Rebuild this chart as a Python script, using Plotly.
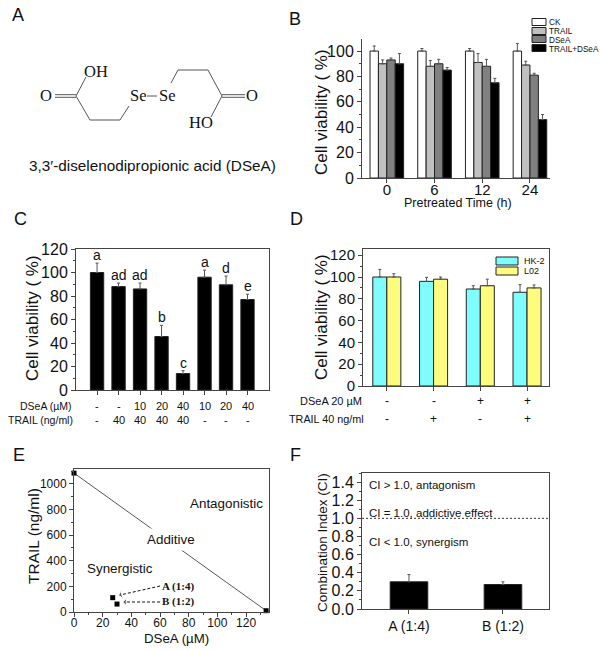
#!/usr/bin/env python3
# -*- coding: utf-8 -*-
import plotly.graph_objects as go

# panel B
b_times = ["0", "6", "12", "24"]
b_names = ["CK", "TRAIL", "DSeA", "TRAIL+DSeA"]
b_values = [[100, 100, 100, 100], [90, 88, 91, 89], [93, 90, 88, 81], [90, 85, 75, 46]]
b_errors = [[4, 2, 2, 6], [3, 4.5, 7, 3], [1.5, 3.5, 5.5, 1.5], [8, 2, 3.5, 4]]
b_colors = ["#ffffff", "#c0c0c0", "#808080", "#000000"]

# panel C
c_values = [100, 88, 86, 45.5, 14, 96, 89.5, 77]
c_errors = [8, 3, 5, 9.5, 2.5, 6, 7.5, 4.5]
c_letters = ["a", "ad", "ad", "b", "c", "a", "d", "e"]
c_dsea = ["-", "-", "10", "20", "40", "10", "20", "40"]
c_trail = ["-", "40", "40", "40", "40", "-", "-", "-"]

# panel D
d_names = ["HK-2", "L02"]
d_hk2 = [100, 96, 89, 86]
d_hk2_err = [7, 3.7, 3, 7]
d_l02 = [100, 98, 92, 90]
d_l02_err = [3, 2, 6, 2.7]
d_dsea = ["-", "-", "+", "+"]
d_trail = ["-", "+", "-", "+"]

# panel E
e_line_x = [0, 134]
e_line_y = [1085, 10]
e_points_x = [0, 27, 30, 134]
e_points_y = [1085, 112, 62, 10]

# panel F
f_labels = ["A (1:4)", "B (1:2)"]
f_values = [0.30, 0.27]
f_errors = [0.08, 0.03]

SANS = "Liberation Sans"
SERIF = "Liberation Serif"
AXIS = "#444444"
W = 600
H = 650

fig = go.Figure()
annotations = []
shapes = []


def px(x):
    return x / W


def py(y):
    return 1 - y / H


def text(x, y, s, size, family=SANS, anchor="center", **kw):
    annotations.append(dict(x=px(x), y=py(y), xref="paper", yref="paper", text=s, showarrow=False,
                            xanchor=anchor, yanchor="middle", font=dict(family=family, size=size, color="#111111"), **kw))


def seg(x0, y0, x1, y1, color="#555555", width=1):
    shapes.append(dict(type="line", xref="paper", yref="paper", x0=px(x0), y0=py(y0), x1=px(x1), y1=py(y1),
                       line=dict(color=color, width=width)))


def box(x0, y0, x1, y1, fill):
    shapes.append(dict(type="rect", xref="paper", yref="paper", x0=px(x0), y0=py(y0), x1=px(x1), y1=py(y1),
                       fillcolor=fill, line=dict(color="#222222", width=1)))


def axes(n, left, right, top, bottom, xrange, yrange, xticks, xlabels, ydtick, yminor,
         tick_size=16, mirror=True, xminor=None, xshift=0, xsize=None):
    xax = dict(domain=[px(left), px(right)], range=xrange, tickmode="array", tickvals=xticks, ticktext=xlabels,
               ticks="outside", ticklen=4, tickcolor=AXIS, showline=True, linecolor=AXIS, linewidth=1, mirror=mirror,
               showgrid=False, zeroline=False, automargin=False, anchor="y%d" % n, ticklabelstandoff=xshift,
               tickfont=dict(family=SANS, size=xsize or tick_size, color="#111111"))
    if xminor:
        xax["minor"] = dict(dtick=xminor, ticks="outside", ticklen=2, tickcolor=AXIS, showgrid=False)
    yax = dict(domain=[py(bottom), py(top)], range=yrange, dtick=ydtick, tick0=0,
               ticks="outside", ticklen=4, tickcolor=AXIS, showline=True, linecolor=AXIS, linewidth=1, mirror=mirror,
               showgrid=False, zeroline=False, automargin=False, anchor="x%d" % n,
               tickfont=dict(family=SANS, size=tick_size, color="#111111"),
               minor=dict(dtick=yminor, ticks="outside", ticklen=2, tickcolor=AXIS, showgrid=False))
    fig.update_layout({"xaxis%d" % n: xax, "yaxis%d" % n: yax})


def bar(n, x, y, err, color, width, offset=None, name=None, err_color="#555555"):
    fig.add_trace(go.Bar(x=x, y=y, width=width, offset=offset, name=name, xaxis="x%d" % n, yaxis="y%d" % n,
                         marker=dict(color=color, line=dict(color="#222222", width=1)),
                         error_y=dict(type="data", array=err, arrayminus=[0] * len(err), symmetric=False,
                                      color=err_color, thickness=1, width=1.5)))


def draw_molecule():
    # bonds of the structure in panel A, in page pixels
    bonds = [(55, 94.7, 76, 94.7), (55, 97.3, 76, 97.3), (76, 96, 86, 77), (76, 96, 90, 120), (90, 120, 120, 120),
             (120, 120, 129, 106), (147, 96, 157, 96), (171, 83, 178, 70), (178, 70, 208, 70), (208, 70, 222, 96),
             (222, 94.7, 245, 94.7), (222, 97.3, 245, 97.3), (222, 96, 211, 117)]
    for b in bonds:
        seg(*b, color="#555555")
    for x, y, s in [(46, 96, "O"), (96, 71, "OH"), (138, 96, "Se"), (167, 96, "Se"), (252, 96, "O"), (201, 122, "HO")]:
        text(x, y, s, 16.5, SERIF)
    text(152, 166, "3,3′-diselenodipropionic acid (DSeA)", 15.3)


def draw_b():
    axes(1, 362, 550, 39, 178, [-0.52, 3.42], [0, 109.5], [0, 1, 2, 3], b_times, 20, 10,
         mirror=False, xshift=-6, xsize=15)
    for i in range(4):
        bar(1, [0, 1, 2, 3], b_values[i], b_errors[i], b_colors[i], 0.176, -0.352 + 0.176 * i, b_names[i])
    text(322, 112, "Cell viability ( %)", 17, textangle=-90)
    text(458, 203, "Pretreated Time (h)", 12.5)
    # legend rows sit closer together than a plotly legend allows
    for i, y in enumerate([22, 31, 39, 48]):
        box(532, y - 3.5, 546, y + 3.5, b_colors[i])
        text(548, y + 1, b_names[i], 8.2, anchor="left", borderpad=0)


def draw_c():
    x = list(range(8))
    axes(2, 76, 269, 249, 390, [-0.98, 8.0], [0, 120], x, [""] * 8, 20, 10)
    bar(2, x, c_values, c_errors, "#000000", 0.62)
    for i in x:
        annotations.append(dict(x=i, y=c_values[i] + c_errors[i], xref="x2", yref="y2", text=c_letters[i], showarrow=False,
                                yanchor="bottom", yshift=-2, font=dict(family=SANS, size=14, color="#111111")))
        annotations.append(dict(x=i, y=py(406), xref="x2", yref="paper", text=c_dsea[i], showarrow=False,
                                yanchor="middle", font=dict(family=SANS, size=11, color="#111111")))
        annotations.append(dict(x=i, y=py(420), xref="x2", yref="paper", text=c_trail[i], showarrow=False,
                                yanchor="middle", font=dict(family=SANS, size=11, color="#111111")))
    text(32, 318, "Cell viability ( %)", 17, textangle=-90)
    text(74, 406, "DSeA (µM)", 10.5, anchor="right")
    text(75, 420, "TRAIL (ng/ml)", 10.5, anchor="right")


def draw_d():
    x = [0, 1, 2, 3]
    axes(3, 363, 549, 249, 386, [-0.51, 3.47], [0, 125.7], x, [""] * 4, 20, 10, tick_size=15)
    bar(3, x, d_hk2, d_hk2_err, "#7ffcfc", 0.3, -0.3, d_names[0])
    bar(3, x, d_l02, d_l02_err, "#fdfc7d", 0.3, 0, d_names[1])
    for i in x:
        annotations.append(dict(x=i, y=py(401), xref="x3", yref="paper", text=d_dsea[i], showarrow=False,
                                yanchor="middle", font=dict(family=SANS, size=12, color="#111111")))
        annotations.append(dict(x=i, y=py(419), xref="x3", yref="paper", text=d_trail[i], showarrow=False,
                                yanchor="middle", font=dict(family=SANS, size=12, color="#111111")))
    text(322, 317, "Cell viability ( %)", 17, textangle=-90)
    text(364, 401, "DSeA 20 µM", 11, anchor="right")
    text(366, 419, "TRAIL 40 ng/ml", 10.8, anchor="right")
    for i, y in enumerate([261, 271]):
        box(496, y - 4, 518, y + 4, ["#7ffcfc", "#fdfc7d"][i])
        text(523, y, d_names[i], 9, anchor="left", borderpad=0)


def draw_e():
    axes(4, 74, 269, 469, 612, [0, 136], [0, 1117], [0, 20, 40, 60, 80, 100, 120],
         ["0", "20", "40", "60", "80", "100", "120"], 200, 100, tick_size=12, xminor=10, xshift=-4)
    fig.add_trace(go.Scatter(x=e_line_x, y=e_line_y, mode="lines", xaxis="x4", yaxis="y4",
                             line=dict(color="#555555", width=1)))
    fig.add_trace(go.Scatter(x=e_points_x, y=e_points_y, mode="markers", xaxis="x4", yaxis="y4",
                             marker=dict(symbol="square", size=5, color="#000000"), cliponaxis=False))
    # dashed guides from the labels to the two points
    for gx, gy in [([60, 31], [203, 130]), ([60, 34], [78, 78])]:
        fig.add_trace(go.Scatter(x=gx, y=gy, mode="lines+markers", xaxis="x4", yaxis="y4",
                                 line=dict(color="#111111", width=1, dash="3px,2px"),
                                 marker=dict(symbol=["line-ew", "arrow-wide"], angleref="previous", size=[1, 8], color="#111111")))
    text(33, 536, "TRAIL (ng/ml)", 15.5, textangle=-90)
    text(176, 638, "DSeA (µM)", 13.3)
    text(226, 503, "Antagonistic", 13.4)
    text(171, 539, "Additive", 13.4, bgcolor="#ffffff", borderpad=3)
    text(120, 568, "Synergistic", 13.4)
    text(160, 586, "<b>A (1:4)</b>", 11, SERIF, anchor="left")
    text(160, 601, "<b>B (1:2)</b>", 11, SERIF, anchor="left")


def draw_f():
    axes(5, 362, 549, 473, 609, [-0.5, 1.49], [0, 1.5], [0, 1], f_labels, 0.2, 0.1, xsize=14)
    fig.update_layout(yaxis5=dict(tickformat=".1f"))
    bar(5, [0, 1], f_values, f_errors, "#000000", 0.4)
    shapes.append(dict(type="line", xref="x5 domain", yref="y5", x0=0, x1=1, y0=1, y1=1,
                       line=dict(color="#333333", width=1, dash="2px,2px")))
    text(322, 543, "Combination Index (CI)", 13.5, textangle=-90)
    text(367, 485, "CI > 1.0, antagonism", 11.5, anchor="left")
    text(367, 513, "CI = 1.0, addictive effect", 11.5, anchor="left")
    text(367, 542, "CI < 1.0, synergism", 11.5, anchor="left")


draw_molecule()
draw_b()
draw_c()
draw_d()
draw_e()
draw_f()

for s, x, y in [("A", 18, 15), ("B", 295, 19), ("C", 20, 219), ("D", 296, 219), ("E", 19, 455), ("F", 295, 455)]:
    text(x, y, s, 18)

fig.update_layout(width=W, height=H, margin=dict(l=0, r=0, t=0, b=0), showlegend=False, barmode="overlay",
                  plot_bgcolor="#ffffff", paper_bgcolor="#ffffff", annotations=annotations, shapes=shapes)

fig.write_html("out.html", config=dict(displayModeBar=False), post_script="document.body.style.margin='0';")
